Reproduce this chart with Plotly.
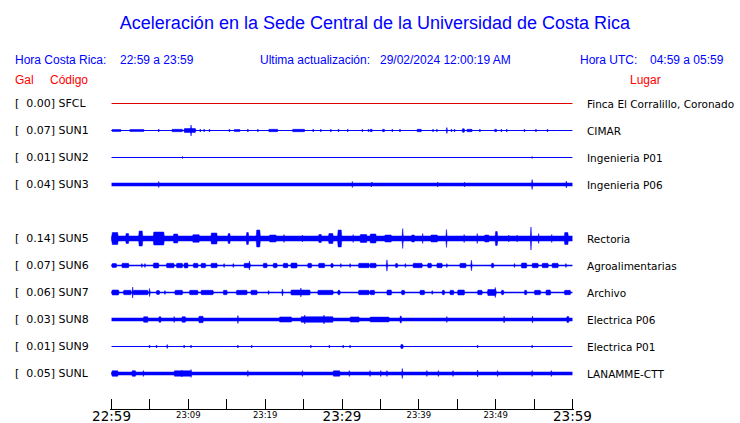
import plotly.graph_objects as go

# ---------------- data ----------------
CODES = ["SFCL", "SUN1", "SUN2", "SUN3", "SUN5", "SUN6", "SUN7", "SUN8", "SUN9", "SUNL"]
GAL = [0.00, 0.07, 0.01, 0.04, 0.14, 0.07, 0.06, 0.03, 0.01, 0.05]
PLACES = ["Finca El Corralillo, Coronado", "CIMAR", "Ingenieria P01", "Ingenieria P06",
          "Rectoria", "Agroalimentarias", "Archivo", "Electrica P06", "Electrica P01", "LANAMME-CTT"]
ROWS = [0, 1, 2, 3, 5, 6, 7, 8, 9, 10]          # slot of each trace (slot 4 empty)
COLORS = ["#e00000"] + ["#0000ff"] * 9
# background (noise) half-amplitude of each trace, trace units
BASE = [0.5, 0.5, 0.5, 1.7, 2.8, 0.7, 0.7, 1.8, 0.5, 1.8]

# bursts: (start minute, end minute, half-amplitude) ; minutes after 22:59
SFCL_B = []
SUN1_B = [(0.0, 1.3, 1.0), (2.3, 4.3, 1.0), (6.1, 6.2, 1.5), (7.8, 9.3, 1.2), (9.4, 11.0, 2.0),
          (10.3, 10.4, 5.5), (11.5, 11.6, 1.5), (12.0, 12.1, 1.5), (12.7, 12.8, 1.5), (15.3, 15.4, 1.5),
          (15.9, 16.8, 1.0), (17.7, 17.8, 1.5), (19.0, 19.1, 1.5), (20.4, 21.7, 1.2), (23.5, 25.2, 1.2),
          (26.2, 26.3, 1.5), (27.2, 27.3, 1.5), (28.5, 28.6, 1.5), (29.5, 29.6, 1.5), (30.7, 30.8, 1.5),
          (32.6, 32.7, 1.5), (33.4, 33.5, 1.5), (33.6, 34.0, 1.2), (35.2, 35.6, 1.2), (36.5, 36.6, 1.5),
          (37.5, 37.6, 1.5), (39.7, 40.4, 1.2), (41.8, 41.9, 1.5), (42.3, 42.4, 1.5), (43.6, 43.7, 3.0),
          (44.2, 44.3, 1.5), (44.6, 44.7, 1.5), (45.6, 46.0, 1.8), (46.2, 47.0, 1.2), (47.9, 48.0, 1.5),
          (49.8, 50.2, 1.2), (50.7, 50.8, 1.5), (51.4, 51.5, 1.5), (53.7, 53.8, 1.5), (55.2, 55.3, 1.5),
          (56.7, 56.8, 1.5)]
SUN2_B = [(9.2, 9.3, 1.0), (54.7, 54.8, 1.0)]
SUN3_B = [(6.1, 6.2, 3.0), (31.3, 31.4, 3.0), (33.7, 34.0, 2.5), (42.4, 42.5, 2.5), (45.9, 46.0, 2.5),
          (54.7, 54.8, 5.0), (59.1, 59.3, 3.5)]
SUN5_B = [(0.0, 0.9, 6.0), (1.8, 2.3, 5.0), (3.5, 4.1, 7.5), (5.4, 6.9, 6.5), (8.0, 8.7, 4.5),
          (10.5, 11.5, 3.8), (12.9, 13.8, 5.5), (15.1, 15.5, 5.0), (17.5, 17.9, 6.0), (18.8, 19.4, 8.5),
          (20.5, 21.5, 3.5), (22.4, 22.5, 4.0), (24.8, 24.9, 3.5), (26.9, 27.4, 4.0), (28.2, 28.9, 5.0),
          (29.4, 30.0, 8.5), (31.4, 31.5, 4.0), (32.3, 33.3, 4.0), (33.6, 34.5, 4.5), (35.5, 36.5, 3.5),
          (37.8, 38.0, 10.0), (39.0, 39.5, 3.5), (40.4, 40.6, 5.0), (41.5, 42.5, 3.5), (43.5, 43.7, 9.0),
          (45.8, 46.0, 4.0), (47.5, 47.7, 5.0), (48.5, 49.2, 3.5), (49.9, 50.3, 7.0), (51.6, 51.8, 3.5),
          (52.7, 52.9, 3.5), (54.5, 54.7, 11.5), (55.5, 55.7, 5.0), (57.2, 57.4, 4.0), (58.9, 59.5, 6.0)]
SUN6_B = [(0.0, 0.7, 2.0), (1.3, 2.3, 2.2), (3.9, 4.0, 2.0), (4.3, 4.4, 2.0), (5.4, 6.2, 2.5),
          (7.1, 8.2, 2.2), (8.4, 9.3, 2.2), (9.4, 10.0, 2.5), (10.6, 11.3, 2.2), (11.6, 12.3, 2.2),
          (12.9, 13.8, 2.2), (14.6, 14.7, 2.0), (15.8, 15.9, 2.0), (17.2, 18.1, 2.2), (17.9, 18.0, 4.5),
          (19.7, 20.3, 2.2), (21.0, 21.6, 2.2), (22.3, 23.0, 2.2), (23.3, 24.2, 2.5), (25.5, 26.1, 2.2),
          (26.9, 27.8, 2.2), (28.5, 28.9, 2.0), (29.8, 29.9, 2.0), (31.0, 31.1, 2.0), (32.1, 33.6, 2.2),
          (33.6, 34.5, 2.2), (35.8, 35.9, 5.7), (36.9, 37.3, 2.0), (38.2, 38.3, 2.0), (39.2, 40.5, 2.2),
          (41.1, 41.7, 2.2), (42.3, 43.1, 2.2), (43.6, 43.7, 2.0), (45.3, 46.2, 2.2), (46.8, 46.9, 5.3),
          (49.4, 49.8, 2.2), (52.4, 52.5, 2.0), (53.3, 54.1, 2.5), (54.7, 55.6, 2.2), (56.0, 56.9, 2.2),
          (57.3, 58.2, 2.2), (59.1, 59.2, 2.0)]
SUN7_B = [(0.0, 1.0, 2.5), (1.5, 2.6, 2.2), (2.7, 2.8, 5.5), (2.8, 4.8, 2.2), (4.9, 5.0, 4.0),
          (5.8, 6.3, 2.0), (6.9, 7.0, 2.0), (8.2, 9.3, 2.2), (10.1, 11.3, 2.2), (11.6, 13.3, 2.2),
          (14.5, 15.1, 2.2), (16.2, 17.7, 2.2), (18.1, 19.0, 2.2), (20.4, 20.5, 2.0), (22.2, 22.3, 3.5),
          (23.3, 25.9, 2.5), (24.6, 24.7, 4.5), (26.8, 28.9, 2.2), (29.4, 29.8, 2.2), (32.1, 33.6, 2.2),
          (33.6, 34.3, 2.2), (35.8, 36.5, 2.5), (37.7, 38.2, 2.2), (40.1, 40.8, 2.2), (41.7, 41.8, 2.0),
          (43.0, 43.4, 2.2), (44.0, 44.6, 2.2), (45.0, 46.0, 2.5), (47.6, 48.3, 2.2), (48.9, 50.1, 3.0),
          (49.9, 50.0, 5.0), (50.7, 51.1, 2.2), (53.7, 54.1, 2.2), (55.0, 55.9, 2.2), (56.5, 57.2, 2.5),
          (58.9, 59.8, 2.2)]
SUN8_B = [(4.1, 4.8, 2.8), (6.1, 6.5, 2.8), (8.1, 8.2, 3.0), (9.1, 9.7, 2.8), (11.3, 12.0, 3.2),
          (16.4, 16.5, 4.0), (21.8, 23.5, 2.6), (24.6, 28.9, 2.8), (25.1, 25.2, 4.5), (27.6, 27.7, 4.5),
          (31.0, 32.3, 2.6), (33.6, 36.2, 2.4), (37.5, 37.8, 3.5), (43.6, 43.7, 3.0), (51.0, 51.2, 3.5),
          (54.7, 54.9, 3.5), (59.2, 59.6, 3.0)]
SUN9_B = [(4.9, 5.0, 1.5), (5.8, 5.9, 1.5), (7.2, 7.3, 2.0), (9.4, 9.5, 1.5), (10.3, 10.4, 1.5),
          (16.4, 16.5, 1.5), (18.2, 18.3, 1.5), (25.9, 26.0, 1.5), (28.3, 28.4, 1.5), (30.1, 30.2, 1.5),
          (31.0, 31.1, 1.5), (37.6, 38.0, 2.0), (47.6, 47.7, 1.5), (54.7, 54.8, 1.5)]
SUNL_B = [(0.0, 0.9, 2.8), (2.6, 3.2, 2.8), (4.1, 4.2, 3.0), (8.1, 10.4, 2.7), (9.1, 9.2, 3.5),
          (10.3, 10.4, 4.0), (17.7, 17.8, 3.0), (24.8, 24.9, 3.0), (28.8, 29.8, 2.7), (30.9, 31.0, 3.0),
          (33.6, 33.7, 3.0), (35.0, 35.1, 3.0), (35.8, 35.9, 3.0), (37.8, 37.9, 5.0), (41.0, 41.1, 3.0),
          (42.5, 42.6, 3.0), (44.4, 44.5, 3.0), (47.6, 47.7, 3.5), (50.2, 50.3, 3.0), (54.7, 54.8, 3.0),
          (57.2, 57.3, 3.0)]
BURSTS = [SFCL_B, SUN1_B, SUN2_B, SUN3_B, SUN5_B, SUN6_B, SUN7_B, SUN8_B, SUN9_B, SUNL_B]

MAJOR_TICKS = [0, 30, 60]
MAJOR_LABELS = ["22:59", "23:29", "23:59"]
MINOR_TICKS = [10, 20, 40, 50]
MINOR_LABELS = ["23:09", "23:19", "23:39", "23:49"]
ALL_TICKS = list(range(0, 61, 5))

TITLE = "Aceleración en la Sede Central de la Universidad de Costa Rica"

# ---------------- figure ----------------
W, H = 740, 423
ML, MR, MT, MB = 110, 166, 90, 14
ROW_SP = 27
PLOT_H = H - MT - MB
Y_TOP = 13.5
RAMP = 0.1         # minutes of rise / decay drawn for each burst
MIN_W = 0.2        # minimum drawn width of a burst, minutes

fig = go.Figure()
for i, code in enumerate(CODES):
    off = -ROW_SP * ROWS[i]
    col = COLORS[i]
    fig.add_trace(go.Scatter(x=[0, 60], y=[off, off], mode="lines",
                             line=dict(color=col, width=max(1.0, 2 * BASE[i])),
                             hoverinfo="skip", showlegend=False))
    b = BURSTS[i]
    if b:
        px_, py_ = [], []
        for s, e, a in b:
            if e - s < MIN_W:
                m = (s + e) / 2
                s, e = m - MIN_W / 2, m + MIN_W / 2
            d = min(RAMP, (e - s) / 2)
            px_ += [s, s + d, e - d, e, e - d, s + d, s, None]
            py_ += [off, off + a, off + a, off, off - a, off - a, off, None]
        fig.add_trace(go.Scatter(x=px_, y=py_, mode="lines", fill="toself", fillcolor=col,
                                 line=dict(color=col, width=0.5), hoverinfo="skip", showlegend=False))

# carrier of the secondary (small) tick labels
fig.add_trace(go.Scatter(x=MINOR_TICKS, y=[None] * len(MINOR_TICKS), xaxis="x2", mode="markers",
                         hoverinfo="skip", showlegend=False))

def px_to_paper_x(px):
    return (px - ML) / (W - ML - MR)

def px_to_paper_y(py):
    return (H - MB - py) / PLOT_H

ann = []
lab_font = dict(family="DejaVu Sans", size=11, color="black")
for i, code in enumerate(CODES):
    off = -ROW_SP * ROWS[i]
    ann.append(dict(x=px_to_paper_x(13), xref="paper", y=off, yref="y", xanchor="left", yanchor="middle",
                    text="[\u00a0\u00a0" + f"{GAL[i]:.2f}] {code}", showarrow=False, font=lab_font))
    ann.append(dict(x=px_to_paper_x(585), xref="paper", y=off, yref="y", xanchor="left", yanchor="middle",
                    text=PLACES[i], showarrow=False, font=dict(family="DejaVu Sans", size=10.5, color="black")))

hdr = dict(family="Liberation Sans", size=12, color="#0000ff")
red = dict(family="Liberation Sans", size=12, color="#ff0000")
for txt, xpx, font, ypx in [("Hora Costa Rica:", 13, hdr, 60), ("22:59 a 23:59", 118, hdr, 60),
                            ("Ultima actualización:", 258, hdr, 60), ("29/02/2024 12:00:19 AM", 378, hdr, 60),
                            ("Hora UTC:", 578, hdr, 60), ("04:59 a 05:59", 648, hdr, 60),
                            ("Gal", 13, red, 80), ("Código", 48, red, 80), ("Lugar", 628, red, 80)]:
    ann.append(dict(x=px_to_paper_x(xpx), xref="paper", y=px_to_paper_y(ypx), yref="paper",
                    xanchor="left", yanchor="middle", text=txt, showarrow=False, font=font))

XR = [-0.2, 60.2]
fig.update_layout(
    width=W, height=H, margin=dict(l=ML, r=MR, t=MT, b=MB, autoexpand=False),
    paper_bgcolor="white", plot_bgcolor="white",
    title=dict(text=TITLE, x=375 / W, xanchor="center", y=1 - 23 / H, yanchor="middle",
               xref="container", yref="container",
               font=dict(family="Liberation Sans", size=18, color="#0000ff")),
    xaxis=dict(range=XR, tickvals=ALL_TICKS,
               ticktext=[MAJOR_LABELS[MAJOR_TICKS.index(t)] if t in MAJOR_TICKS else "" for t in ALL_TICKS],
               ticks="inside", ticklen=10, tickcolor="black", tickwidth=1,
               showline=True, linecolor="black", linewidth=1, showgrid=False, zeroline=False,
               tickfont=dict(family="DejaVu Sans", size=13.5, color="black"), automargin=False,
               ticklabelstandoff=-5, fixedrange=True),
    xaxis2=dict(range=XR, overlaying="x", anchor="y", side="bottom", tickvals=MINOR_TICKS,
                ticktext=MINOR_LABELS, ticks="", showline=False, showgrid=False, zeroline=False,
                tickfont=dict(family="DejaVu Sans", size=8.5, color="black"), automargin=False,
                ticklabelstandoff=-1, fixedrange=True),
    yaxis=dict(range=[-(PLOT_H - Y_TOP), Y_TOP], visible=False, showgrid=False, zeroline=False,
               fixedrange=True),
    annotations=ann,
    showlegend=False,
)

fig.write_html("out.html", post_script="document.body.style.margin='0';",
               config={"displayModeBar": False, "staticPlot": True})
